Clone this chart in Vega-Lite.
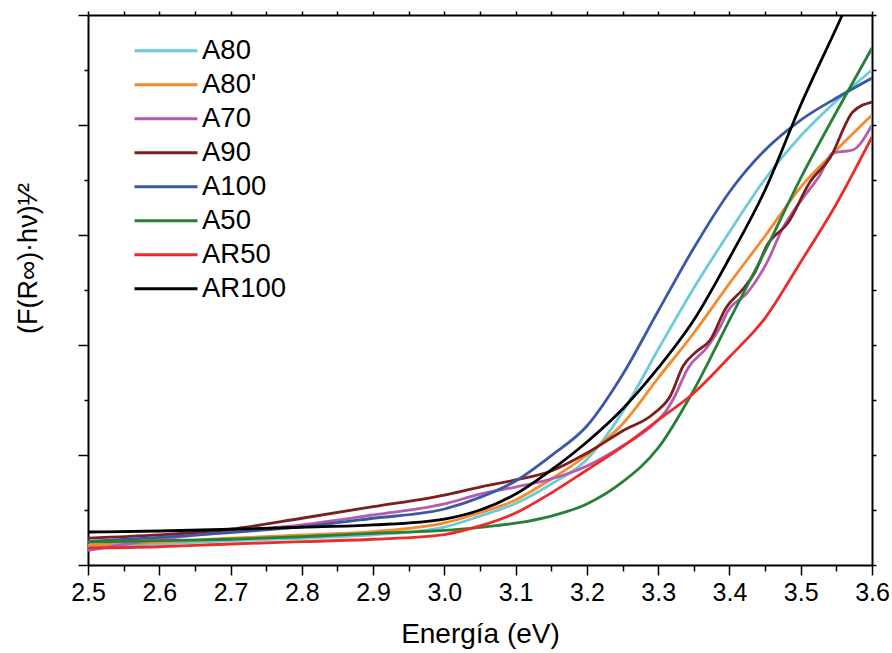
{
"$schema": "https://vega.github.io/schema/vega-lite/v6.json",
"autosize": {"type": "none"},
"width": 784, "height": 550,
"padding": {"left": 88, "top": 15, "right": 20, "bottom": 88},
"config": {"view": {"stroke": null}, "font": "Liberation Sans",
  "axis": {"domainColor": "black", "domainWidth": 2, "tickColor": "black", "tickWidth": 1.5, "grid": false, "labelFont": "Liberation Sans", "titleFont": "Liberation Sans", "labelColor": "black", "titleColor": "black", "titleFontWeight": "normal"},
  "legend": {"title": null, "orient": "none", "legendX": 45, "legendY": 19, "symbolType": "stroke", "symbolSize": 3969, "symbolStrokeWidth": 3, "labelFontSize": 27.5, "labelFont": "Liberation Sans", "labelColor": "black", "labelOffset": 3, "clipHeight": 33.7, "rowPadding": 0, "padding": 0}},
"data": {"values": [
{"s":"A80","e":2.5,"v":0.173},{"s":"A80","e":2.6,"v":0.191},{"s":"A80","e":2.7,"v":0.221},{"s":"A80","e":2.8,"v":0.243},{"s":"A80","e":2.9,"v":0.273},{"s":"A80","e":3.0,"v":0.345},{"s":"A80","e":3.05,"v":0.445},{"s":"A80","e":3.1,"v":0.559},{"s":"A80","e":3.15,"v":0.736},{"s":"A80","e":3.2,"v":0.96},{"s":"A80","e":3.25,"v":1.39},{"s":"A80","e":3.3,"v":1.96},{"s":"A80","e":3.35,"v":2.518},{"s":"A80","e":3.4,"v":3.027},{"s":"A80","e":3.45,"v":3.509},{"s":"A80","e":3.5,"v":3.9},{"s":"A80","e":3.55,"v":4.218},{"s":"A80","e":3.6,"v":4.5},
{"s":"A80'","e":2.5,"v":0.182},{"s":"A80'","e":2.6,"v":0.206},{"s":"A80'","e":2.7,"v":0.243},{"s":"A80'","e":2.8,"v":0.273},{"s":"A80'","e":2.9,"v":0.303},{"s":"A80'","e":3.0,"v":0.382},{"s":"A80'","e":3.05,"v":0.475},{"s":"A80'","e":3.1,"v":0.591},{"s":"A80'","e":3.15,"v":0.782},{"s":"A80'","e":3.2,"v":1.0},{"s":"A80'","e":3.25,"v":1.282},{"s":"A80'","e":3.3,"v":1.7},{"s":"A80'","e":3.35,"v":2.109},{"s":"A80'","e":3.4,"v":2.56},{"s":"A80'","e":3.45,"v":2.991},{"s":"A80'","e":3.5,"v":3.436},{"s":"A80'","e":3.55,"v":3.773},{"s":"A80'","e":3.6,"v":4.091},
{"s":"A70","e":2.5,"v":0.132},{"s":"A70","e":2.6,"v":0.234},{"s":"A70","e":2.7,"v":0.303},{"s":"A70","e":2.8,"v":0.364},{"s":"A70","e":2.9,"v":0.455},{"s":"A70","e":3.0,"v":0.555},{"s":"A70","e":3.05,"v":0.645},{"s":"A70","e":3.1,"v":0.709},{"s":"A70","e":3.15,"v":0.782},{"s":"A70","e":3.2,"v":0.9},{"s":"A70","e":3.25,"v":1.082},{"s":"A70","e":3.289,"v":1.255},{"s":"A70","e":3.312,"v":1.409},{"s":"A70","e":3.322,"v":1.518},{"s":"A70","e":3.342,"v":1.791},{"s":"A70","e":3.369,"v":1.982},{"s":"A70","e":3.387,"v":2.164},{"s":"A70","e":3.397,"v":2.3},{"s":"A70","e":3.425,"v":2.473},{"s":"A70","e":3.453,"v":2.755},{"s":"A70","e":3.475,"v":3.064},{"s":"A70","e":3.499,"v":3.3},{"s":"A70","e":3.527,"v":3.545},{"s":"A70","e":3.545,"v":3.745},{"s":"A70","e":3.573,"v":3.773},{"s":"A70","e":3.6,"v":4.0},
{"s":"A90","e":2.5,"v":0.245},{"s":"A90","e":2.6,"v":0.273},{"s":"A90","e":2.7,"v":0.325},{"s":"A90","e":2.8,"v":0.425},{"s":"A90","e":2.9,"v":0.53},{"s":"A90","e":3.0,"v":0.636},{"s":"A90","e":3.05,"v":0.709},{"s":"A90","e":3.1,"v":0.773},{"s":"A90","e":3.15,"v":0.855},{"s":"A90","e":3.2,"v":1.018},{"s":"A90","e":3.25,"v":1.218},{"s":"A90","e":3.293,"v":1.373},{"s":"A90","e":3.317,"v":1.536},{"s":"A90","e":3.335,"v":1.809},{"s":"A90","e":3.353,"v":1.936},{"s":"A90","e":3.373,"v":2.045},{"s":"A90","e":3.395,"v":2.336},{"s":"A90","e":3.419,"v":2.509},{"s":"A90","e":3.436,"v":2.664},{"s":"A90","e":3.453,"v":2.909},{"s":"A90","e":3.482,"v":3.109},{"s":"A90","e":3.513,"v":3.482},{"s":"A90","e":3.541,"v":3.7},{"s":"A90","e":3.573,"v":4.118},{"s":"A90","e":3.6,"v":4.209},
{"s":"A100","e":2.5,"v":0.214},{"s":"A100","e":2.6,"v":0.252},{"s":"A100","e":2.7,"v":0.294},{"s":"A100","e":2.8,"v":0.348},{"s":"A100","e":2.9,"v":0.425},{"s":"A100","e":3.0,"v":0.509},{"s":"A100","e":3.05,"v":0.615},{"s":"A100","e":3.1,"v":0.764},{"s":"A100","e":3.15,"v":0.995},{"s":"A100","e":3.2,"v":1.264},{"s":"A100","e":3.25,"v":1.73},{"s":"A100","e":3.3,"v":2.309},{"s":"A100","e":3.35,"v":2.882},{"s":"A100","e":3.4,"v":3.391},{"s":"A100","e":3.45,"v":3.773},{"s":"A100","e":3.5,"v":4.045},{"s":"A100","e":3.55,"v":4.245},{"s":"A100","e":3.6,"v":4.427},
{"s":"A50","e":2.5,"v":0.209},{"s":"A50","e":2.6,"v":0.221},{"s":"A50","e":2.7,"v":0.234},{"s":"A50","e":2.8,"v":0.257},{"s":"A50","e":2.9,"v":0.288},{"s":"A50","e":3.0,"v":0.314},{"s":"A50","e":3.05,"v":0.343},{"s":"A50","e":3.1,"v":0.38},{"s":"A50","e":3.15,"v":0.445},{"s":"A50","e":3.2,"v":0.555},{"s":"A50","e":3.25,"v":0.755},{"s":"A50","e":3.3,"v":1.064},{"s":"A50","e":3.35,"v":1.591},{"s":"A50","e":3.4,"v":2.227},{"s":"A50","e":3.45,"v":2.855},{"s":"A50","e":3.5,"v":3.518},{"s":"A50","e":3.55,"v":4.118},{"s":"A50","e":3.6,"v":4.7},
{"s":"AR50","e":2.5,"v":0.155},{"s":"AR50","e":2.6,"v":0.166},{"s":"AR50","e":2.7,"v":0.191},{"s":"AR50","e":2.8,"v":0.212},{"s":"AR50","e":2.9,"v":0.234},{"s":"AR50","e":3.0,"v":0.277},{"s":"AR50","e":3.05,"v":0.355},{"s":"AR50","e":3.1,"v":0.473},{"s":"AR50","e":3.15,"v":0.655},{"s":"AR50","e":3.2,"v":0.864},{"s":"AR50","e":3.25,"v":1.077},{"s":"AR50","e":3.3,"v":1.318},{"s":"AR50","e":3.35,"v":1.564},{"s":"AR50","e":3.4,"v":1.891},{"s":"AR50","e":3.45,"v":2.245},{"s":"AR50","e":3.5,"v":2.755},{"s":"AR50","e":3.55,"v":3.282},{"s":"AR50","e":3.6,"v":3.891},
{"s":"AR100","e":2.5,"v":0.3},{"s":"AR100","e":2.6,"v":0.309},{"s":"AR100","e":2.7,"v":0.325},{"s":"AR100","e":2.8,"v":0.343},{"s":"AR100","e":2.9,"v":0.364},{"s":"AR100","e":3.0,"v":0.418},{"s":"AR100","e":3.05,"v":0.5},{"s":"AR100","e":3.1,"v":0.645},{"s":"AR100","e":3.15,"v":0.864},{"s":"AR100","e":3.2,"v":1.118},{"s":"AR100","e":3.25,"v":1.418},{"s":"AR100","e":3.3,"v":1.791},{"s":"AR100","e":3.35,"v":2.227},{"s":"AR100","e":3.4,"v":2.791},{"s":"AR100","e":3.45,"v":3.409},{"s":"AR100","e":3.5,"v":4.182},{"s":"AR100","e":3.55,"v":4.882},{"s":"AR100","e":3.6,"v":5.59}
]},
"layer": [
{"mark": {"type": "line", "strokeWidth": 2.8, "interpolate": "monotone", "clip": true},
 "encoding": {
  "x": {"field": "e", "type": "quantitative", "scale": {"domain": [2.5, 3.6], "nice": false, "zero": false},
    "axis": {"orient": "bottom", "title": "Energía (eV)", "titleFontSize": 28, "titlePadding": 15, "labelFontSize": 25, "labelPadding": 5,
      "values": [2.5,2.55,2.6,2.65,2.7,2.75,2.8,2.85,2.9,2.95,3.0,3.05,3.1,3.15,3.2,3.25,3.3,3.35,3.4,3.45,3.5,3.55,3.6],
      "labelExpr": "abs(datum.value*10 - round(datum.value*10)) < 0.01 ? format(datum.value, '.1f') : ''",
      "labelOverlap": false, "labelFlush": false, "labelBound": false,
      "tickSize": {"condition": {"test": "abs(datum.value*10 - round(datum.value*10)) < 0.01", "value": 10}, "value": 6}}},
  "y": {"field": "v", "type": "quantitative", "scale": {"domain": [0, 5], "nice": false, "zero": false},
    "axis": {"orient": "left", "title": "(F(R∞)·hν)¹⁄²", "titleFontSize": 27, "titlePadding": 35, "titleY": 243, "labels": false,
      "values": [0,0.5,1,1.5,2,2.5,3,3.5,4,4.5,5],
      "tickSize": {"condition": {"test": "datum.value % 1 == 0", "value": 10}, "value": 4}}},
  "color": {"field": "s", "type": "nominal",
    "scale": {"domain": ["A80","A80'","A70","A90","A100","A50","AR50","AR100"], "range": ["#6DCAD7","#F58A2E","#B75BAE","#7C1F1F","#3D57A7","#258038","#EE2B2B","#000000"]}}
 }},
{"mark": {"type": "line", "strokeOpacity": 0, "clip": true},
 "encoding": {
  "x": {"field": "e", "type": "quantitative", "axis": {"orient": "top", "title": null, "labels": false, "tickSize": 4,
      "values": [2.5,2.55,2.6,2.65,2.7,2.75,2.8,2.85,2.9,2.95,3.0,3.05,3.1,3.15,3.2,3.25,3.3,3.35,3.4,3.45,3.5,3.55,3.6]}},
  "y": {"field": "v", "type": "quantitative", "axis": {"orient": "right", "title": null, "labels": false, "tickSize": 4,
      "values": [0,0.5,1,1.5,2,2.5,3,3.5,4,4.5,5]}},
  "detail": {"field": "s"}
 }}
],
"resolve": {"axis": {"x": "independent", "y": "independent"}}
}
